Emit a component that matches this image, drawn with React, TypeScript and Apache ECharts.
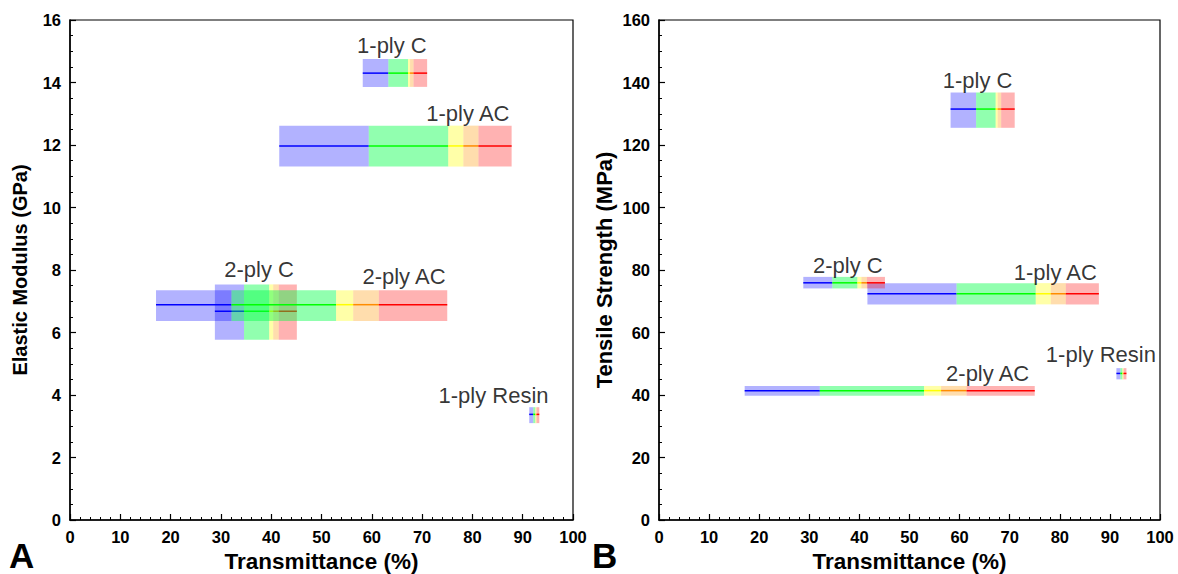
import React, { useEffect, useRef } from "react";
import * as echarts from "echarts";

// Sample names
const samples = ["1-ply C", "1-ply AC", "2-ply C", "2-ply AC", "1-ply Resin"];

// Transmittance boundaries (%) for the coloured spectral segments of each sample:
// [blue start, green start, yellow start, orange start, red start, red end]
const transBounds1plyC = [58.2, 63.3, 67.2, 67.6, 68.3, 71.0];
const transBounds1plyAC = [41.6, 59.4, 75.2, 78.2, 81.2, 87.8];
const transBounds2plyC = [28.8, 34.6, 39.6, 40.4, 41.5, 45.1];
const transBounds2plyAC = [17.1, 32.1, 52.9, 56.3, 61.4, 75.0];
const transBoundsResin = [91.3, 92.1, 92.5, 92.6, 92.8, 93.3];
const transBounds = [transBounds1plyC, transBounds1plyAC, transBounds2plyC, transBounds2plyAC, transBoundsResin];

// Elastic modulus (GPa): mean, low, high
const modulusMean = [14.3, 11.97, 6.68, 6.89, 3.38];
const modulusLow = [13.86, 11.31, 5.77, 6.37, 3.1];
const modulusHigh = [14.75, 12.62, 7.54, 7.35, 3.61];

// Tensile strength (MPa): mean, low, high
const strengthMean = [131.5, 72.4, 75.9, 41.4, 46.9];
const strengthLow = [125.5, 69.0, 74.1, 39.8, 45.0];
const strengthHigh = [136.8, 75.8, 77.8, 42.9, 48.6];

// Label anchor points (data units)
const modulusLabelX = [64.0, 79.1, 37.6, 66.4, 84.2];
const modulusLabelY = [15.2, 13.0, 8.03, 7.78, 3.99];
const strengthLabelX = [63.6, 79.1, 37.7, 65.6, 88.2];
const strengthLabelY = [140.8, 79.3, 81.5, 47.0, 52.9];

// Axis ranges / ticks
const xMin = 0, xMax = 100, xStep = 10;
const modMin = 0, modMax = 16, modStep = 2;
const strMin = 0, strMax = 160, strStep = 20;

const fills = [
  "rgba(0,0,255,0.3)",
  "rgba(0,255,70,0.43)",
  "rgba(255,255,0,0.34)",
  "rgba(255,150,0,0.32)",
  "rgba(255,0,0,0.3)",
];
const strokes = ["#0000ff", "#00ff00", "#ffff00", "#ff8c00", "#ff0000"];

const FONT = "Arial, 'Liberation Sans', sans-serif";

function buildSegments(mean: number[], low: number[], high: number[]) {
  const out: number[][] = [];
  for (let s = 0; s < samples.length; s++) {
    const b = transBounds[s];
    for (let k = 0; k < 5; k++) {
      out.push([b[k], b[k + 1], low[s], mean[s], high[s], k]);
    }
  }
  return out;
}

const renderItem = (params: any, api: any) => {
  const x0 = api.value(0), x1 = api.value(1);
  const lo = api.value(2), mid = api.value(3), hi = api.value(4);
  const k = api.value(5);
  const pTL = api.coord([x0, hi]);
  const pBR = api.coord([x1, lo]);
  const pM0 = api.coord([x0, mid]);
  const pM1 = api.coord([x1, mid]);
  return {
    type: "group",
    children: [
      {
        type: "rect",
        shape: { x: pTL[0], y: pTL[1], width: pBR[0] - pTL[0], height: pBR[1] - pTL[1] },
        style: { fill: fills[k] },
      },
      {
        type: "line",
        shape: { x1: pM0[0], y1: pM0[1], x2: pM1[0], y2: pM1[1] },
        style: { stroke: strokes[k], lineWidth: 1.5 },
      },
    ],
  };
};

function xAxisCfg(gridIndex: number) {
  return {
    type: "value",
    gridIndex,
    min: xMin,
    max: xMax,
    interval: xStep,
    name: "Transmittance (%)",
    nameLocation: "middle",
    nameGap: 17,
    nameTextStyle: { fontFamily: FONT, fontWeight: "bold", fontSize: 22.5, color: "#000" },
    axisLine: { show: true, onZero: false, lineStyle: { color: "#000", width: 1.5 } },
    axisTick: { show: true, inside: true, length: 6, lineStyle: { color: "#000", width: 1.2 } },
    minorTick: { show: true, splitNumber: 5, length: 3, lineStyle: { color: "#000", width: 1 } },
    splitLine: { show: false },
    axisLabel: { fontFamily: FONT, fontWeight: "bold", fontSize: 16.5, color: "#000", margin: 8 },
  };
}

function yAxisCfg(gridIndex: number, name: string, min: number, max: number, step: number, gap: number, nameSize: number) {
  return {
    type: "value",
    gridIndex,
    min,
    max,
    interval: step,
    name,
    nameLocation: "middle",
    nameGap: gap,
    nameTextStyle: { fontFamily: FONT, fontWeight: "bold", fontSize: nameSize, color: "#000" },
    axisLine: { show: true, onZero: false, lineStyle: { color: "#000", width: 1.5 } },
    axisTick: { show: true, inside: true, length: 6, lineStyle: { color: "#000", width: 1.2 } },
    minorTick: { show: true, splitNumber: 4, length: 3, lineStyle: { color: "#000", width: 1 } },
    splitLine: { show: false },
    axisLabel: { fontFamily: FONT, fontWeight: "bold", fontSize: 16.5, color: "#000", margin: 9 },
  };
}

function labelSeries(xIdx: number, xs: number[], ys: number[]) {
  return {
    type: "scatter",
    xAxisIndex: xIdx,
    yAxisIndex: xIdx,
    symbolSize: 0,
    silent: true,
    z: 5,
    data: samples.map((n, i) => ({ name: n, value: [xs[i], ys[i]] })),
    label: {
      show: true,
      position: "inside",
      formatter: (p: any) => p.name,
      fontFamily: FONT,
      fontSize: 22,
      color: "#000",
      align: "center",
      verticalAlign: "middle",
    },
  };
}

export default function App() {
  const ref = useRef<HTMLDivElement>(null);
  useEffect(() => {
    if (!ref.current) return;
    const chart = echarts.init(ref.current, undefined, { renderer: "svg" });
    chart.setOption({
      animation: false,
      backgroundColor: "#fff",
      grid: [
        { left: 70, top: 20, width: 503, height: 500, show: true, borderColor: "#000", borderWidth: 1.2, backgroundColor: "transparent", containLabel: false, outerBoundsMode: "none" },
        { left: 659, top: 20, width: 501, height: 500, show: true, borderColor: "#000", borderWidth: 1.2, backgroundColor: "transparent", containLabel: false, outerBoundsMode: "none" },
      ],
      xAxis: [xAxisCfg(0), xAxisCfg(1)],
      yAxis: [
        yAxisCfg(0, "Elastic Modulus (GPa)", modMin, modMax, modStep, 40, 20),
        yAxisCfg(1, "Tensile Strength (MPa)", strMin, strMax, strStep, 44, 22),
      ],
      series: [
        {
          type: "custom",
          xAxisIndex: 0,
          yAxisIndex: 0,
          renderItem,
          encode: { x: [0, 1], y: [2, 3, 4] },
          data: buildSegments(modulusMean, modulusLow, modulusHigh),
          clip: true,
        },
        {
          type: "custom",
          xAxisIndex: 1,
          yAxisIndex: 1,
          renderItem,
          encode: { x: [0, 1], y: [2, 3, 4] },
          data: buildSegments(strengthMean, strengthLow, strengthHigh),
          clip: true,
        },
        labelSeries(0, modulusLabelX, modulusLabelY),
        labelSeries(1, strengthLabelX, strengthLabelY),
      ],
      graphic: [
        { type: "text", left: 9, top: 538, style: { text: "A", font: `bold 35px ${FONT}`, fill: "#000" } },
        { type: "text", left: 592, top: 538, style: { text: "B", font: `bold 35px ${FONT}`, fill: "#000" } },
      ],
    });
    return () => chart.dispose();
  }, []);
  return (
    <div
      ref={ref}
      style={{ position: "fixed", left: 0, top: 0, width: 1178, height: 574, background: "#fff" }}
    />
  );
}
